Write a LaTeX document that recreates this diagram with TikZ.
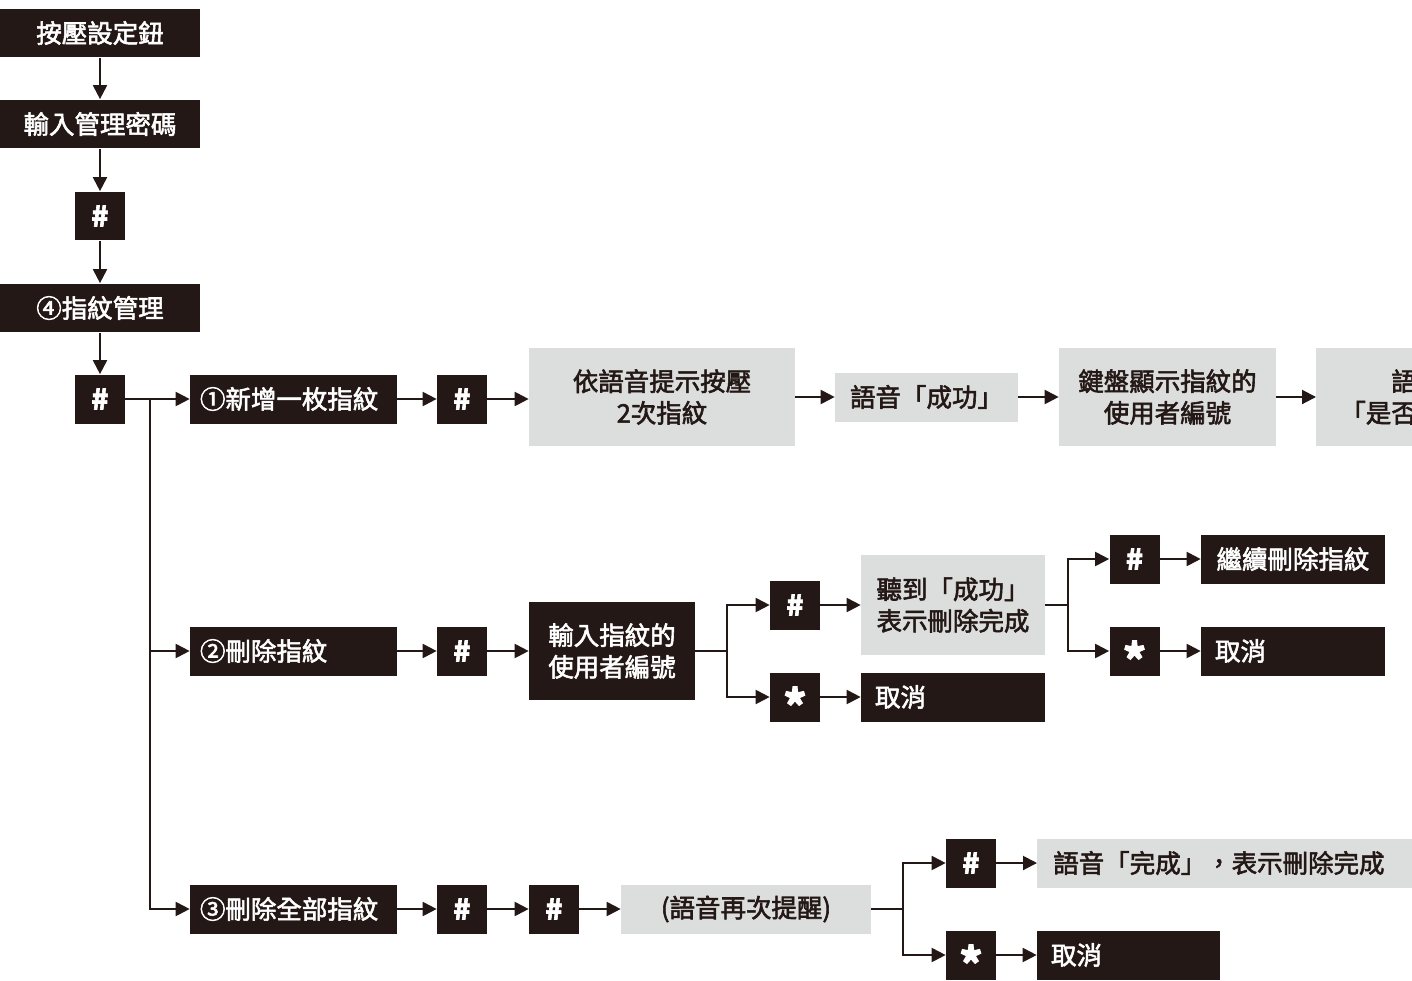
\documentclass[tikz,border=0pt]{standalone}
\usepackage{fontspec}
\newfontfamily\cjk{Noto Sans CJK TC}[FakeBold=2.2]
\usetikzlibrary{arrows.meta}
\definecolor{ink}{RGB}{35,24,21}
\definecolor{pale}{RGB}{220,221,221}
\tikzstyle{dark} = [rectangle, fill=ink, text=white, inner sep=0pt,
                    minimum height=0.98cm]
\tikzstyle{light} = [rectangle, fill=pale, text=ink, inner sep=0pt,
                     minimum height=0.98cm]
\tikzstyle{key} = [dark, minimum width=1cm, font=\cjk\bfseries\fontsize{16}{18}\selectfont]
\tikzstyle{option} = [dark, minimum width=4.14cm, text width=3.74cm, align=left]
\tikzstyle{link} = [line width=0.04cm, draw=ink]
\tikzstyle{arrow} = [link, -{Triangle[length=0.28cm,width=0.28cm]}]
\newcommand{\starkey}{\raisebox{-14.5pt}[0pt][0pt]{\fontsize{25}{25}\selectfont *}}

\begin{document}
\begin{tikzpicture}[x=0.02cm, y=-0.02cm,
    font=\cjk\fontsize{14.5}{18}\selectfont]
    \useasboundingbox (0,0) rectangle (1412,980);
    \clip (0,0) rectangle (1412,980);

    %Start column
    \node (Press) [dark, minimum width=4cm] at (100,33) {按壓設定鈕};
    \node (Code) [dark, minimum width=4cm] at (100,124) {輸入管理密碼};
    \node (HashA) [key] at (100,216) {\#};
    \node (Manage) [dark, minimum width=4cm] at (100,308) {④指紋管理};
    \node (HashB) [key] at (100,399) {\#};

    \draw [arrow] (Press) -- (Code);
    \draw [arrow] (Code) -- (HashA);
    \draw [arrow] (HashA) -- (Manage);
    \draw [arrow] (Manage) -- (HashB);

    %Branches to the three options
    \coordinate (Fork) at (150,399);
    \node (Add) [option] at (293.5,399) {①新增一枚指紋};
    \node (Del) [option] at (293.5,651) {②刪除指紋};
    \node (DelAll) [option] at (293.5,909) {③刪除全部指紋};

    \draw [link] (HashB) -- (Fork);
    \draw [arrow] (Fork) -- (Add);
    \draw [arrow] (Fork) |- (Del);
    \draw [arrow] (Fork) |- (DelAll);

    %Add a fingerprint
    \node (AddHash) [key] at (462,399) {\#};
    \node (Scan) [light, minimum width=5.32cm, minimum height=1.96cm, align=center] at (662,397) {依語音提示按壓\\2次指紋};
    \node (Ok) [light, minimum width=3.66cm] at (926.5,397) {語音「成功」};
    \node (Show) [light, minimum width=4.34cm, minimum height=1.96cm, align=center] at (1167.5,397) {鍵盤顯示指紋的\\使用者編號};
    \node (Ask) [light, anchor=west, minimum height=1.96cm, inner xsep=0.48cm, align=left] at (1316,397) {\hspace*{2em}語\\「是否};

    \draw [arrow] (Add) -- (AddHash);
    \draw [arrow] (AddHash.east) -- (AddHash.east -| Scan.west);
    \draw [arrow] (Scan) -- (Ok);
    \draw [arrow] (Ok) -- (Show);
    \draw [arrow] (Show) -- (Ask);

    %Delete a fingerprint
    \node (DelHash) [key] at (462,651) {\#};
    \node (User) [dark, minimum width=3.32cm, minimum height=1.98cm, align=center] at (612,651) {輸入指紋的\\使用者編號};
    \coordinate (UserFork) at (727,651);
    \node (UserHash) [key] at (795,605) {\#};
    \node (UserStar) [key] at (795,697) {\starkey};
    \node (Heard) [light, minimum width=3.68cm, minimum height=2cm, align=center] at (953,605) {聽到「成功」\\表示刪除完成};
    \node (Cancel) [dark, minimum width=3.68cm, text width=3.12cm, align=left] at (953,697) {取消};
    \coordinate (HeardFork) at (1068,605);
    \node (MoreHash) [key] at (1134.5,559) {\#};
    \node (MoreStar) [key] at (1134.5,651) {\starkey};
    \node (More) [dark, minimum width=3.68cm] at (1293,559) {繼續刪除指紋};
    \node (CancelB) [dark, minimum width=3.68cm, text width=3.12cm, align=left] at (1293,651) {取消};

    \draw [arrow] (Del) -- (DelHash);
    \draw [arrow] (DelHash) -- (User);
    \draw [link] (User) -- (UserFork);
    \draw [arrow] (UserFork) |- (UserHash);
    \draw [arrow] (UserFork) |- (UserStar);
    \draw [arrow] (UserHash) -- (Heard);
    \draw [arrow] (UserStar) -- (Cancel);
    \draw [link] (Heard) -- (HeardFork);
    \draw [arrow] (HeardFork) |- (MoreHash);
    \draw [arrow] (HeardFork) |- (MoreStar);
    \draw [arrow] (MoreHash) -- (More);
    \draw [arrow] (MoreStar) -- (CancelB);

    %Delete all fingerprints
    \node (AllHashA) [key] at (462,909) {\#};
    \node (AllHashB) [key] at (554,909) {\#};
    \node (Remind) [light, minimum width=5cm] at (746,909) {(語音再次提醒)};
    \coordinate (RemindFork) at (903,909);
    \node (DoneHash) [key] at (971,863) {\#};
    \node (DoneStar) [key] at (971,955) {\starkey};
    \node (Done) [light, anchor=west, minimum width=7.8cm, text width=7.16cm, align=left] at (1037,863) {語音「完成」，表示刪除完成};
    \node (CancelC) [dark, minimum width=3.66cm, text width=3.1cm, align=left] at (1128.5,955) {取消};

    \draw [arrow] (DelAll) -- (AllHashA);
    \draw [arrow] (AllHashA) -- (AllHashB);
    \draw [arrow] (AllHashB) -- (Remind);
    \draw [link] (Remind) -- (RemindFork);
    \draw [arrow] (RemindFork) |- (DoneHash);
    \draw [arrow] (RemindFork) |- (DoneStar);
    \draw [arrow] (DoneHash) -- (Done);
    \draw [arrow] (DoneStar) -- (CancelC);

\end{tikzpicture}
\end{document}
